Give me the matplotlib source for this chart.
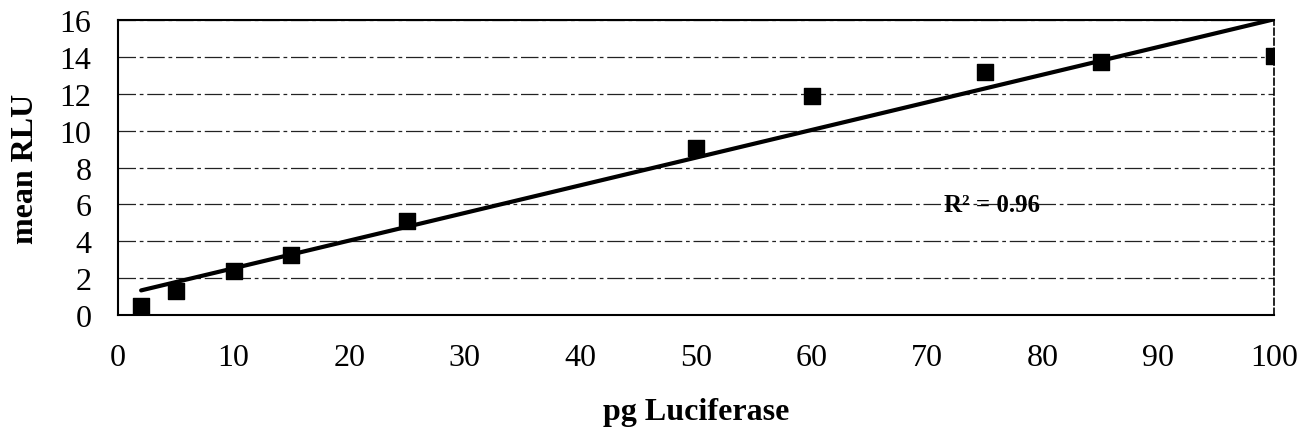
import numpy as np
import matplotlib
matplotlib.use("Agg")
import matplotlib.pyplot as plt

# data
pg_luciferase = [2, 5, 10, 15, 25, 50, 60, 75, 85, 100]
mean_rlu = [0.5, 1.3, 2.4, 3.25, 5.1, 9.05, 11.9, 13.2, 13.7, 14.05]
x_ticks = [0, 10, 20, 30, 40, 50, 60, 70, 80, 90, 100]
y_ticks = [0, 2, 4, 6, 8, 10, 12, 14, 16]

plt.rcParams['font.family'] = ['Liberation Serif', 'DejaVu Serif']

fig = plt.figure(figsize=(13.04, 4.39), dpi=100)
ax = fig.add_axes([0.0905, 0.280, 0.8865, 0.672])

# linear trend line
slope, intercept = np.polyfit(pg_luciferase, mean_rlu, 1)
pred = np.polyval([slope, intercept], pg_luciferase)
r2 = 1 - np.sum((np.array(mean_rlu) - pred) ** 2) / np.sum((np.array(mean_rlu) - np.mean(mean_rlu)) ** 2)
xl = np.array([pg_luciferase[0], pg_luciferase[-1]])
ax.plot(xl, slope * xl + intercept, color="black", lw=3, zorder=3, solid_capstyle="round")

ax.scatter(pg_luciferase, mean_rlu, marker="s", s=120, color="black", zorder=4)

ax.text(75.6, 6.0, "R² = %.2f" % r2, fontsize=18, fontweight="bold",
        ha="center", va="center", zorder=5)

ax.set_xlim(0, 100)
ax.set_ylim(0, 16)
ax.set_xticks(x_ticks)
ax.set_yticks(y_ticks)
ax.tick_params(axis="both", labelsize=23, length=0)
ax.tick_params(axis="x", pad=20)
ax.tick_params(axis="y", pad=19)

ax.yaxis.grid(True, color="#222222", lw=0.9, linestyle=(0, (14, 3, 3, 3)))
ax.set_axisbelow(True)

for s in ["left", "bottom", "top"]:
    ax.spines[s].set_linewidth(1.5)
    ax.spines[s].set_color("black")
ax.spines["right"].set_linestyle((0, (4, 2)))
ax.spines["right"].set_linewidth(1.2)

ax.set_xlabel("pg Luciferase", fontsize=23, fontweight="bold", labelpad=18)
ax.set_ylabel("mean RLU", fontsize=23, fontweight="bold", labelpad=14)

fig.savefig("out.png", dpi=100)
